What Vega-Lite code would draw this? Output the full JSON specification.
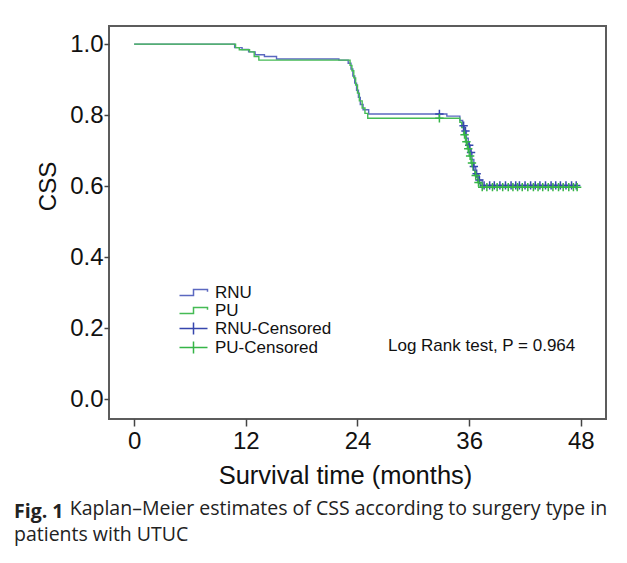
{
  "$schema": "https://vega.github.io/schema/vega-lite/v6.json",
  "width": 497,
  "height": 393,
  "autosize": "none",
  "padding": {"left": 109, "top": 26, "right": 21, "bottom": 144},
  "background": "white",
  "config": {
    "font": "Liberation Sans",
    "view": {"stroke": "#5c5c5c", "strokeWidth": 2}
  },
  "title": {
    "text": "Fig. 1",
    "subtitle": ["\u200b\u00a0\u00a0\u00a0\u00a0\u00a0\u00a0\u00a0\u00a0\u00a0\u00a0\u00a0Kaplan–Meier estimates of CSS according to surgery type in", "patients with UTUC"],
    "orient": "bottom",
    "anchor": "start",
    "frame": "group",
    "dx": -95,
    "offset": 14,
    "font": "Open Sans",
    "fontSize": 19.5,
    "fontWeight": "bold",
    "color": "#222222",
    "subtitleFont": "Open Sans",
    "subtitleFontSize": 19.5,
    "subtitleFontWeight": "normal",
    "subtitleColor": "#222222",
    "subtitleLineHeight": 26,
    "subtitlePadding": -22
  },
  "datasets": {
    "curves": [
      {"series": "RNU", "t": 0, "s": 1.0},
      {"series": "RNU", "t": 10.8, "s": 0.99},
      {"series": "RNU", "t": 11.6, "s": 0.985},
      {"series": "RNU", "t": 12.3, "s": 0.978},
      {"series": "RNU", "t": 13.0, "s": 0.97},
      {"series": "RNU", "t": 14.0, "s": 0.965},
      {"series": "RNU", "t": 15.3, "s": 0.958},
      {"series": "RNU", "t": 22.0, "s": 0.955},
      {"series": "RNU", "t": 23.0, "s": 0.946},
      {"series": "RNU", "t": 23.3, "s": 0.93},
      {"series": "RNU", "t": 23.5, "s": 0.91},
      {"series": "RNU", "t": 23.7, "s": 0.89},
      {"series": "RNU", "t": 23.9, "s": 0.87},
      {"series": "RNU", "t": 24.1, "s": 0.85},
      {"series": "RNU", "t": 24.3, "s": 0.83},
      {"series": "RNU", "t": 24.6, "s": 0.815},
      {"series": "RNU", "t": 25.2, "s": 0.803},
      {"series": "RNU", "t": 33.6, "s": 0.797},
      {"series": "RNU", "t": 35.0, "s": 0.785},
      {"series": "RNU", "t": 35.3, "s": 0.77},
      {"series": "RNU", "t": 35.5, "s": 0.755},
      {"series": "RNU", "t": 35.7, "s": 0.735},
      {"series": "RNU", "t": 35.9, "s": 0.715},
      {"series": "RNU", "t": 36.1, "s": 0.695},
      {"series": "RNU", "t": 36.3, "s": 0.675},
      {"series": "RNU", "t": 36.5, "s": 0.655},
      {"series": "RNU", "t": 36.7, "s": 0.635},
      {"series": "RNU", "t": 37.0, "s": 0.617},
      {"series": "RNU", "t": 37.4, "s": 0.602},
      {"series": "RNU", "t": 47.6, "s": 0.602},
      {"series": "PU", "t": 0, "s": 1.0},
      {"series": "PU", "t": 10.9, "s": 0.99},
      {"series": "PU", "t": 11.3, "s": 0.984},
      {"series": "PU", "t": 12.4, "s": 0.978},
      {"series": "PU", "t": 12.9, "s": 0.965},
      {"series": "PU", "t": 13.4, "s": 0.955},
      {"series": "PU", "t": 23.2, "s": 0.94},
      {"series": "PU", "t": 23.4, "s": 0.925},
      {"series": "PU", "t": 23.6, "s": 0.905},
      {"series": "PU", "t": 23.8, "s": 0.885},
      {"series": "PU", "t": 24.0, "s": 0.862},
      {"series": "PU", "t": 24.2, "s": 0.84},
      {"series": "PU", "t": 24.5, "s": 0.82},
      {"series": "PU", "t": 24.8, "s": 0.805},
      {"series": "PU", "t": 25.1, "s": 0.791},
      {"series": "PU", "t": 35.0, "s": 0.78},
      {"series": "PU", "t": 35.2, "s": 0.765},
      {"series": "PU", "t": 35.4, "s": 0.745},
      {"series": "PU", "t": 35.6, "s": 0.725},
      {"series": "PU", "t": 35.8, "s": 0.705},
      {"series": "PU", "t": 36.0, "s": 0.685},
      {"series": "PU", "t": 36.2, "s": 0.665},
      {"series": "PU", "t": 36.4, "s": 0.645},
      {"series": "PU", "t": 36.6, "s": 0.63},
      {"series": "PU", "t": 36.9, "s": 0.61},
      {"series": "PU", "t": 37.2, "s": 0.597},
      {"series": "PU", "t": 47.6, "s": 0.597}
    ],
    "censored": [
      {"series": "RNU-Censored", "t": 32.8, "s": 0.803},
      {"series": "RNU-Censored", "t": 35.4, "s": 0.77},
      {"series": "RNU-Censored", "t": 35.6, "s": 0.755},
      {"series": "RNU-Censored", "t": 36.0, "s": 0.715},
      {"series": "RNU-Censored", "t": 36.2, "s": 0.695},
      {"series": "RNU-Censored", "t": 36.5, "s": 0.655},
      {"series": "RNU-Censored", "t": 36.8, "s": 0.635},
      {"series": "RNU-Censored", "t": 37.1, "s": 0.617},
      {"series": "RNU-Censored", "t": 37.6, "s": 0.602},
      {"series": "RNU-Censored", "t": 38.2, "s": 0.602},
      {"series": "RNU-Censored", "t": 38.7, "s": 0.602},
      {"series": "RNU-Censored", "t": 39.3, "s": 0.602},
      {"series": "RNU-Censored", "t": 39.9, "s": 0.602},
      {"series": "RNU-Censored", "t": 40.5, "s": 0.602},
      {"series": "RNU-Censored", "t": 41.0, "s": 0.602},
      {"series": "RNU-Censored", "t": 41.4, "s": 0.602},
      {"series": "RNU-Censored", "t": 42.0, "s": 0.602},
      {"series": "RNU-Censored", "t": 42.6, "s": 0.602},
      {"series": "RNU-Censored", "t": 43.1, "s": 0.602},
      {"series": "RNU-Censored", "t": 43.6, "s": 0.602},
      {"series": "RNU-Censored", "t": 44.2, "s": 0.602},
      {"series": "RNU-Censored", "t": 44.8, "s": 0.602},
      {"series": "RNU-Censored", "t": 45.3, "s": 0.602},
      {"series": "RNU-Censored", "t": 45.8, "s": 0.602},
      {"series": "RNU-Censored", "t": 46.4, "s": 0.602},
      {"series": "RNU-Censored", "t": 47.0, "s": 0.602},
      {"series": "RNU-Censored", "t": 47.5, "s": 0.602},
      {"series": "PU-Censored", "t": 32.8, "s": 0.791},
      {"series": "PU-Censored", "t": 35.5, "s": 0.745},
      {"series": "PU-Censored", "t": 35.7, "s": 0.725},
      {"series": "PU-Censored", "t": 35.9, "s": 0.705},
      {"series": "PU-Censored", "t": 36.1, "s": 0.685},
      {"series": "PU-Censored", "t": 36.3, "s": 0.665},
      {"series": "PU-Censored", "t": 36.7, "s": 0.63},
      {"series": "PU-Censored", "t": 37.0, "s": 0.61},
      {"series": "PU-Censored", "t": 37.4, "s": 0.597},
      {"series": "PU-Censored", "t": 37.9, "s": 0.597},
      {"series": "PU-Censored", "t": 38.5, "s": 0.597},
      {"series": "PU-Censored", "t": 39.0, "s": 0.597},
      {"series": "PU-Censored", "t": 39.6, "s": 0.597},
      {"series": "PU-Censored", "t": 40.2, "s": 0.597},
      {"series": "PU-Censored", "t": 40.7, "s": 0.597},
      {"series": "PU-Censored", "t": 41.2, "s": 0.597},
      {"series": "PU-Censored", "t": 41.7, "s": 0.597},
      {"series": "PU-Censored", "t": 42.3, "s": 0.597},
      {"series": "PU-Censored", "t": 42.9, "s": 0.597},
      {"series": "PU-Censored", "t": 43.4, "s": 0.597},
      {"series": "PU-Censored", "t": 43.9, "s": 0.597},
      {"series": "PU-Censored", "t": 44.5, "s": 0.597},
      {"series": "PU-Censored", "t": 45.0, "s": 0.597},
      {"series": "PU-Censored", "t": 45.6, "s": 0.597},
      {"series": "PU-Censored", "t": 46.1, "s": 0.597},
      {"series": "PU-Censored", "t": 46.7, "s": 0.597},
      {"series": "PU-Censored", "t": 47.2, "s": 0.597},
      {"series": "PU-Censored", "t": 47.6, "s": 0.597}
    ],
    "annotation": [
      {"label": "Log Rank test, P = 0.964"}
    ]
  },
  "layer": [
    {
      "data": {"name": "curves"},
      "mark": {"type": "line", "interpolate": "step-after", "strokeWidth": 1.4},
      "encoding": {
        "x": {
          "field": "t",
          "type": "quantitative",
          "scale": {"domain": [-2.7, 50.7], "nice": false, "zero": false},
          "axis": {
            "title": "Survival time (months)",
            "values": [0, 12, 24, 36, 48],
            "grid": false,
            "domain": false,
            "tickSize": 7,
            "tickWidth": 1.5,
            "tickColor": "#444444",
            "labelFontSize": 24,
            "labelColor": "#111111",
            "labelPadding": 3,
            "titleFontSize": 25.5,
            "titleFontWeight": "normal",
            "titleColor": "#111111",
            "titlePadding": 10,
            "titleX": 236
          }
        },
        "y": {
          "field": "s",
          "type": "quantitative",
          "scale": {"domain": [-0.056, 1.051], "nice": false, "zero": false},
          "axis": {
            "title": "CSS",
            "values": [0, 0.2, 0.4, 0.6, 0.8, 1.0],
            "format": ".1f",
            "grid": false,
            "domain": false,
            "tickSize": 5,
            "tickWidth": 1.5,
            "tickColor": "#444444",
            "labelFontSize": 24,
            "labelColor": "#111111",
            "labelPadding": 1,
            "titleFontSize": 24,
            "titleFontWeight": "normal",
            "titleColor": "#111111",
            "titlePadding": 9,
            "titleY": 160
          }
        },
        "color": {
          "field": "series",
          "type": "nominal",
          "scale": {
            "domain": ["RNU", "PU", "RNU-Censored", "PU-Censored"],
            "range": ["#5b68c0", "#45bb55", "#3646ad", "#35b547"]
          },
          "legend": {
            "title": null,
            "orient": "none",
            "legendX": 76,
            "legendY": 258,
            "labelFont": "Liberation Sans",
            "labelFontSize": 17,
            "labelColor": "#111111",
            "labelOffset": 13,
            "rowPadding": 0,
            "symbolSize": 196,
            "symbolStrokeWidth": 1.5,
            "symbolFillColor": "transparent",
            "encode": {
              "symbols": {
                "update": {
                  "shape": {"signal": "indexof(['RNU','PU'], datum.value) >= 0 ? 'M-2,0.43H0V-0.43H2V-0.1' : 'M-2,0H2M0,-0.86V0.86'"},
                  "fill": {"value": "transparent"},
                  "size": {"value": 196}
                }
              }
            }
          }
        }
      }
    },
    {
      "data": {"name": "censored"},
      "mark": {"type": "point", "shape": "M-1,0H1M0,-1V1", "filled": false, "size": 70, "strokeWidth": 1.5, "opacity": 1},
      "encoding": {
        "x": {"field": "t", "type": "quantitative"},
        "y": {"field": "s", "type": "quantitative"},
        "color": {"field": "series", "type": "nominal"}
      }
    },
    {
      "data": {"name": "annotation"},
      "mark": {"type": "text", "align": "right", "baseline": "middle", "font": "Liberation Sans", "fontSize": 17, "fill": "#111111"},
      "encoding": {
        "x": {"datum": 47.4, "type": "quantitative"},
        "y": {"datum": 0.149, "type": "quantitative"},
        "text": {"field": "label", "type": "nominal"}
      }
    }
  ]
}
